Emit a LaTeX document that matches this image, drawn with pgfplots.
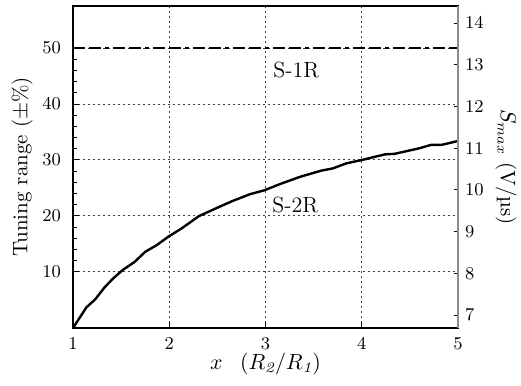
\documentclass[border=0pt]{standalone}
\usepackage{fontspec}
\usepackage{pgfplots}
\pgfplotsset{compat=1.18}
\begin{document}
\begin{tikzpicture}
\begin{axis}[
  scale only axis,
  width=192.5pt, height=161pt,
  xmin=1, xmax=5, ymin=0, ymax=57.5,
  xtick={1,2,3,4,5},
  ytick={10,20,30,40,50},
  minor y tick num=4,
  xtick pos=bottom, ytick pos=left,
  tick align=inside,
  major tick length=3pt, minor tick length=2pt,
  grid=major,
  major grid style={black!75, line width=0.5pt, dash pattern=on 1pt off 1.5pt},
  axis line style={line width=0.8pt},
  tick style={black, line width=0.5pt},
  ticklabel style={font=\small},
  yticklabel style={xshift=-2.5pt},
  xticklabel style={yshift=-1.5pt},
  xlabel={$x$\ \ \,$(R_{\mathit{2}}/R_{\mathit{1}})$},
  ylabel={Tuning range ($\pm$\%)},
  label style={font=\fontsize{10.5}{12}\selectfont},
  xlabel style={at={(axis description cs:0.5,-0.112)}, anchor=center},
  ylabel style={at={(axis description cs:-0.132,0.5)}, anchor=center},
  clip=false,
]
\addplot[black, line width=1.2pt, dash pattern=on 6pt off 2pt on 6pt off 2pt on 2pt off 2pt] coordinates {(1,50) (5,50)};
\addplot[black, line width=1.2pt] coordinates {
(1.00,0.0) (1.14,3.7) (1.23,5.1) (1.33,7.3) (1.42,8.9) (1.52,10.4) (1.64,11.8)
(1.75,13.6) (1.87,14.8) (1.99,16.3) (2.13,17.8) (2.31,20.0) (2.49,21.4)
(2.66,22.7) (2.84,23.9) (2.99,24.6) (3.15,25.7) (3.36,27.0) (3.58,28.1)
(3.70,28.5) (3.84,29.4) (4.00,30.0) (4.24,31.0) (4.34,31.1) (4.60,32.1)
(4.72,32.7) (4.83,32.7) (5.00,33.4)
};
\node[font=\fontsize{11}{13}\selectfont] at (axis cs:3.32,46) {S-1R};
\node[font=\fontsize{11}{13}\selectfont] at (axis cs:3.31,22) {S-2R};
\end{axis}
\begin{axis}[
  scale only axis,
  width=192.5pt, height=161pt,
  xmin=1, xmax=5, ymin=6.69, ymax=14.41,
  axis x line=none,
  axis y line*=right,
  ytick={7,8,...,14},
  tick align=inside,
  major tick length=2pt,
  axis line style={black!45, line width=1.2pt, -},
  tick style={black, line width=0.5pt},
  ticklabel style={font=\small},
  ylabel={$S_{max}$ (V/µs)},
  label style={font=\fontsize{10.5}{12}\selectfont},
  ylabel style={at={(axis description cs:1.125,0.5)}, anchor=center, rotate=180},
]
\end{axis}
\pgfresetboundingbox
\path[use as bounding box] (-36.5pt,-29pt) rectangle (224pt,164pt);
\end{tikzpicture}
\end{document}
